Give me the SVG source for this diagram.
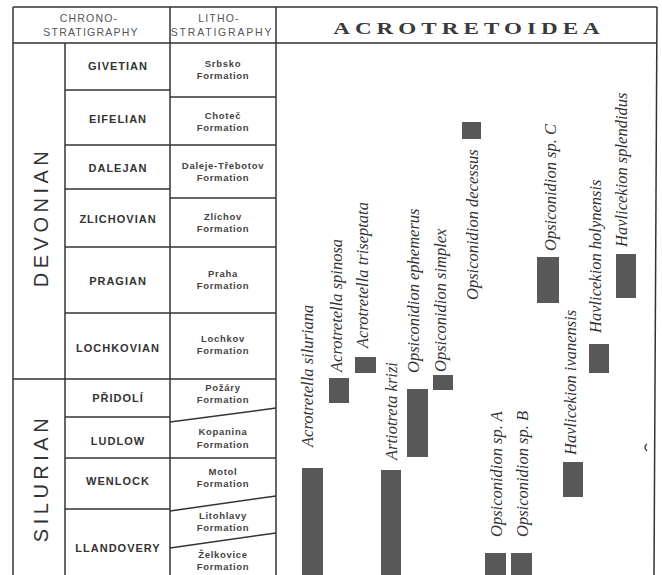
<svg xmlns="http://www.w3.org/2000/svg" width="662" height="575" viewBox="0 0 662 575">
<style>
.ln{stroke:#333;stroke-width:1.5;fill:none}
.hd{font-family:"Liberation Sans",Arial,sans-serif;font-size:10.5px;letter-spacing:1.2px;fill:#555;text-anchor:middle}
.st{font-family:"Liberation Sans",Arial,sans-serif;font-size:11px;font-weight:bold;letter-spacing:1px;fill:#333;text-anchor:middle}
.fm{font-family:"Liberation Sans",Arial,sans-serif;font-size:9.5px;font-weight:bold;letter-spacing:0.7px;fill:#444;text-anchor:middle}
.pd{font-family:"Liberation Sans",Arial,sans-serif;font-size:20px;letter-spacing:4.5px;fill:#333;text-anchor:middle}
.sp{font-family:"Liberation Serif","Times New Roman",serif;font-size:16.5px;font-style:italic;fill:#333}
.bar{fill:#585858}
.tt{font-family:"Liberation Serif","Times New Roman",serif;font-size:16.5px;font-weight:bold;letter-spacing:3.6px;fill:#3a3a3a;text-anchor:middle}
</style>
<rect width="662" height="575" fill="#fff"/>
<g id="frame">
<line class="ln" x1="13" y1="7" x2="657" y2="7"/>
<line class="ln" x1="13" y1="43" x2="657" y2="43"/>
<line class="ln" x1="13" y1="7" x2="13" y2="575"/>
<line class="ln" x1="65" y1="43" x2="65" y2="575"/>
<line class="ln" x1="170" y1="7" x2="170" y2="575"/>
<line class="ln" x1="276" y1="7" x2="276" y2="575"/>
<line class="ln" x1="657" y1="7" x2="654" y2="575"/>
<line class="ln" x1="13" y1="379" x2="276" y2="379"/>
</g>
<g id="header">
<text class="hd" x="89" y="22">CHRONO-</text>
<text class="hd" x="91" y="36">STRATIGRAPHY</text>
<text class="hd" x="219" y="22">LITHO-</text>
<text class="hd" x="222" y="36" style="letter-spacing:1.8px">STRATIGRAPHY</text>
<text class="tt" transform="translate(469,34) scale(1.4,1)">ACROTRETOIDEA</text>
</g>
<g id="periods">
<text class="pd" transform="translate(48,217) rotate(-90)">DEVONIAN</text>
<text class="pd" transform="translate(48,478) rotate(-90)">SILURIAN</text>
</g>
<g id="stages">
<line class="ln" x1="65" y1="90" x2="170" y2="90"/>
<line class="ln" x1="65" y1="145" x2="170" y2="145"/>
<line class="ln" x1="65" y1="189" x2="170" y2="189"/>
<line class="ln" x1="65" y1="247" x2="170" y2="247"/>
<line class="ln" x1="65" y1="313" x2="170" y2="313"/>
<line class="ln" x1="65" y1="417" x2="170" y2="417"/>
<line class="ln" x1="65" y1="458" x2="170" y2="458"/>
<line class="ln" x1="65" y1="509" x2="170" y2="509"/>
<text class="st" x="118" y="70">GIVETIAN</text>
<text class="st" x="118" y="123">EIFELIAN</text>
<text class="st" x="118" y="172">DALEJAN</text>
<text class="st" x="118" y="223">ZLICHOVIAN</text>
<text class="st" x="118" y="285">PRAGIAN</text>
<text class="st" x="118" y="352">LOCHKOVIAN</text>
<text class="st" x="118" y="402">PŘIDOLÍ</text>
<text class="st" x="118" y="445">LUDLOW</text>
<text class="st" x="118" y="485">WENLOCK</text>
<text class="st" x="118" y="552">LLANDOVERY</text>
</g>
<g id="formations">
<line class="ln" x1="170" y1="97" x2="276" y2="97"/>
<line class="ln" x1="170" y1="145" x2="276" y2="145"/>
<line class="ln" x1="170" y1="198" x2="276" y2="198"/>
<line class="ln" x1="170" y1="247" x2="276" y2="247"/>
<line class="ln" x1="170" y1="313" x2="276" y2="313"/>
<line class="ln" x1="170" y1="422" x2="276" y2="408"/>
<line class="ln" x1="170" y1="458" x2="276" y2="458"/>
<line class="ln" x1="170" y1="511" x2="276" y2="496"/>
<line class="ln" x1="170" y1="548" x2="276" y2="533"/>
<text class="fm" x="223" y="67">Srbsko</text><text class="fm" x="223" y="79">Formation</text>
<text class="fm" x="223" y="119">Choteč</text><text class="fm" x="223" y="131">Formation</text>
<text class="fm" x="223" y="169">Daleje-Třebotov</text><text class="fm" x="223" y="181">Formation</text>
<text class="fm" x="223" y="220">Zlíchov</text><text class="fm" x="223" y="232">Formation</text>
<text class="fm" x="223" y="277">Praha</text><text class="fm" x="223" y="289">Formation</text>
<text class="fm" x="223" y="342">Lochkov</text><text class="fm" x="223" y="354">Formation</text>
<text class="fm" x="223" y="391">Požáry</text><text class="fm" x="223" y="403">Formation</text>
<text class="fm" x="223" y="435">Kopanina</text><text class="fm" x="223" y="448">Formation</text>
<text class="fm" x="223" y="475">Motol</text><text class="fm" x="223" y="487">Formation</text>
<text class="fm" x="223" y="519">Litohlavy</text><text class="fm" x="223" y="531">Formation</text>
<text class="fm" x="223" y="558">Želkovice</text><text class="fm" x="223" y="570">Formation</text>
</g>
<g id="taxa">
<g id="t1"><rect class="bar" x="302" y="468" width="21" height="107"/><text class="sp" transform="translate(313,447) rotate(-90)">Acrotretella siluriana</text></g>
<g id="t2"><rect class="bar" x="329" y="378" width="20" height="25"/><text class="sp" transform="translate(342,372) rotate(-90)">Acrotretella spinosa</text></g>
<g id="t3"><rect class="bar" x="355" y="357" width="21" height="16"/><text class="sp" transform="translate(368,348) rotate(-90)">Acrotretella triseptata</text></g>
<g id="t4"><rect class="bar" x="381" y="470" width="20" height="105"/><text class="sp" transform="translate(397,460) rotate(-90)">Artiotreta krizi</text></g>
<g id="t5"><rect class="bar" x="407" y="389" width="21" height="68"/><text class="sp" transform="translate(419,373) rotate(-90)">Opsiconidion ephemerus</text></g>
<g id="t6"><rect class="bar" x="433" y="375" width="20" height="15"/><text class="sp" transform="translate(446,372) rotate(-90)">Opsiconidion simplex</text></g>
<g id="t7"><rect class="bar" x="462" y="122" width="19" height="17"/><text class="sp" transform="translate(478,300) rotate(-90)">Opsiconidion decessus</text></g>
<g id="t8"><rect class="bar" x="485" y="553" width="21" height="22"/><text class="sp" transform="translate(502,537) rotate(-90)">Opsiconidion sp. A</text></g>
<g id="t9"><rect class="bar" x="511" y="553" width="21" height="22"/><text class="sp" transform="translate(528,537) rotate(-90)">Opsiconidion sp. B</text></g>
<g id="t10"><rect class="bar" x="537" y="257" width="22" height="46"/><text class="sp" transform="translate(556,251) rotate(-90)">Opsiconidion sp. C</text></g>
<g id="t11"><rect class="bar" x="563" y="462" width="20" height="35"/><text class="sp" transform="translate(576,455) rotate(-90)">Havlicekion ivanensis</text></g>
<g id="t12"><rect class="bar" x="589" y="344" width="20" height="29"/><text class="sp" transform="translate(601,333) rotate(-90)">Havlicekion holynensis</text></g>
<g id="t13"><rect class="bar" x="616" y="254" width="20" height="44"/><text class="sp" transform="translate(627,247) rotate(-90)">Havlicekion splendidus</text></g>
</g>
<path d="M647,444 Q643,447 647,451" stroke="#444" stroke-width="1.5" fill="none"/>
</svg>
